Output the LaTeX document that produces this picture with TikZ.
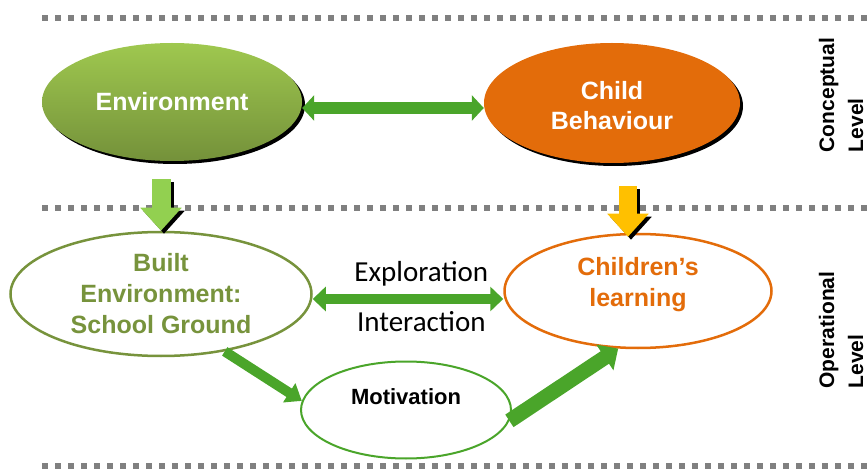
\documentclass[tikz,border=0pt]{standalone}
\usepackage{fontspec}
\setmainfont{Liberation Sans}
\newfontfamily\calibri{Carlito}
\usetikzlibrary{arrows.meta,shapes.geometric,shadows}

\definecolor{envtop}{HTML}{9FC84F}
\definecolor{envbot}{HTML}{74913A}
\definecolor{behav}{HTML}{E36C0A}
\definecolor{olive}{HTML}{77933C}
\definecolor{linkgreen}{HTML}{4AA52A}
\definecolor{dropgreen}{HTML}{92D050}
\definecolor{dropgold}{HTML}{FFC000}
\definecolor{dashgray}{HTML}{808080}

\begin{document}
\begin{tikzpicture}[x=1pt,y=-1pt]
        \tikzstyle{levelline}=[dashgray, line width=6pt, dash pattern=on 6pt off 7pt]
        \tikzstyle{concept}=[ellipse, inner sep=0pt, text=white, align=center, font=\fontsize{25}{30}\selectfont\bfseries,
                             drop shadow={shadow xshift=3pt, shadow yshift=-3pt, fill=black, opacity=1}]
        \tikzstyle{oper}=[ellipse, inner sep=0pt, fill=white, line width=2.5pt, align=center, font=\fontsize{25}{31}\selectfont\bfseries]
        \tikzstyle{link}=[linkgreen, line width=12pt, {Triangle[length=12pt,width=25pt]}-{Triangle[length=12pt,width=25pt]}]
        \tikzstyle{drop}=[line width=19pt, -{Triangle[length=23pt,width=40pt]}]
        \tikzstyle{level}=[rotate=90, align=left, font=\fontsize{21}{29}\selectfont\bfseries]

        \useasboundingbox (0,0) rectangle (868,473);

        \draw[levelline] (42,18) -- (868,18);
        \draw[levelline] (42,208) -- (868,208);
        \draw[levelline] (42,466) -- (868,466);

        \node[concept, top color=envtop, bottom color=envbot, minimum width=260pt, minimum height=118pt] (env) at (172,102) {Environment};
        \node[concept, fill=behav, minimum width=256pt, minimum height=120pt] (child) at (612,103)
            {\raisebox{-12pt}[0pt][0pt]{\begin{tabular}{@{}c@{}}Child\\Behaviour\end{tabular}}};

        \node[oper, draw=olive, text=olive, minimum width=301pt, minimum height=124pt] (built) at (161,294) {Built\\Environment:\\School Ground};
        \node[oper, draw=behav, text=behav, minimum width=267pt, minimum height=114pt] (learn) at (638,291)
            {\raisebox{0pt}[0pt][0pt]{\begin{tabular}{@{}c@{}}Children’s\\learning\end{tabular}}};
        \node[oper, draw=linkgreen, line width=2pt, minimum width=210pt, minimum height=97pt, font=\fontsize{22}{26}\selectfont\bfseries] (motiv) at (406,410)
            {\raisebox{26pt}{Motivation}};

        \node[level] (conc) at (841,95) {Conceptual\\Level};
        \node[level] (oplev) at (841,330) {Operational\\Level};

        \draw[link] ([yshift=-6pt]env.east) -- ([yshift=-6pt]env.east -| child.west);
        \draw[link, line width=10pt, {Triangle[length=13pt,width=24pt]}-{Triangle[length=13pt,width=24pt]}]
            ([yshift=-5pt]built.east) -- ([yshift=-5pt]built.east -| learn.west)
            node[pos=0.57, yshift=25pt, text=black, font=\calibri\fontsize{29}{33}\selectfont] (explo) {Exploration}
            node[pos=0.57, yshift=-23pt, text=black, font=\calibri\fontsize{29}{33}\selectfont] (inter) {Interaction};

        \draw[drop, black, transform canvas={shift={(3pt,-3pt)}}] (built.north |- env.south) ++(0,18) -- (built.north);
        \draw[drop, dropgreen] (built.north |- env.south) ++(0,18) -- (built.north);
        \draw[drop, line width=18pt, black, transform canvas={shift={(3pt,-3pt)}}] ([xshift=-10pt]learn.north |- child.south) ++(0,23) -- ([xshift=-10pt,yshift=-4pt]learn.north);
        \draw[drop, line width=18pt, dropgold] ([xshift=-10pt]learn.north |- child.south) ++(0,23) -- ([xshift=-10pt,yshift=-4pt]learn.north);

        \draw[linkgreen, line width=10pt, -{Triangle[length=15pt,width=22pt]}] (built.318) -- (motiv.175);
        \draw[linkgreen, line width=15pt, -{Triangle[length=16pt,width=30pt]}] (motiv.354) -- (learn.251);
\end{tikzpicture}
\end{document}
